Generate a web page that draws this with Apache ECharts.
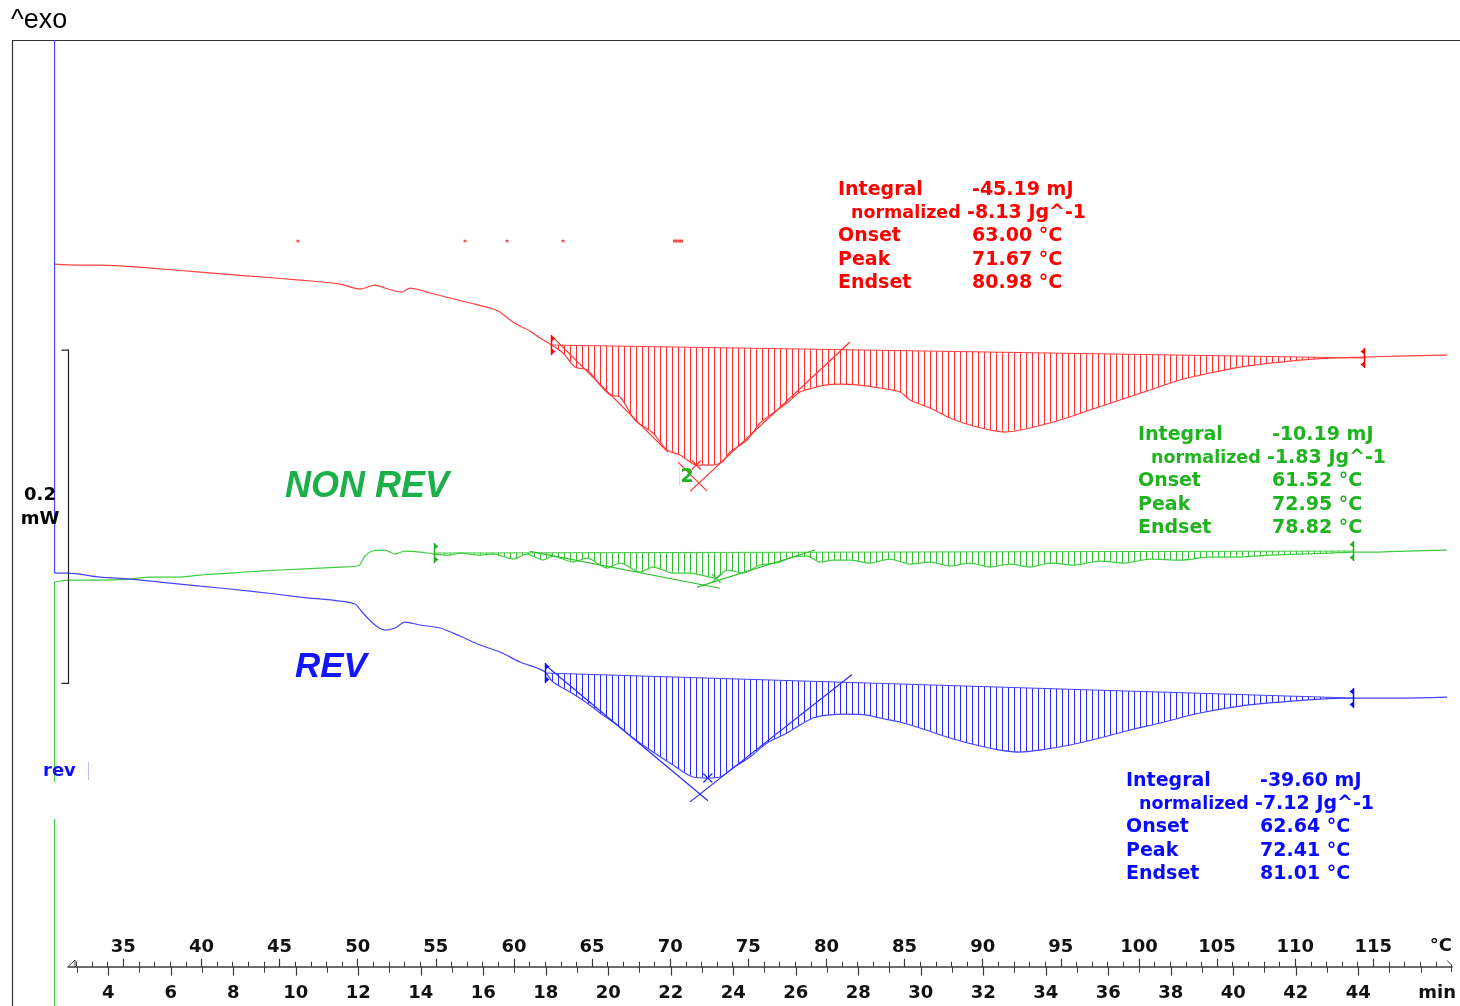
<!DOCTYPE html>
<html>
<head>
<meta charset="utf-8">
<script src="https://cdn.jsdelivr.net/npm/echarts@6/dist/echarts.min.js"></script>
<style>
html,body{margin:0;padding:0;background:#fff;}
#chart{width:1460px;height:1006px;}
</style>
</head>
<body>
<div id="chart"></div>
<script>
// Temperature-modulated DSC run: total (red), non-reversing (green) and reversing (blue) heat flow.
// x = sample temperature in °C, y = heat flow in mW (each curve carries its own display offset).

const tempLabels = [35, 40, 45, 50, 55, 60, 65, 70, 75, 80, 85, 90, 95, 100, 105, 110, 115];
const timeLabels = [4, 6, 8, 10, 12, 14, 16, 18, 20, 22, 24, 26, 28, 30, 32, 34, 36, 38, 40, 42, 44];

const redCurve = [
  [30.57,0.4216],[32.23,0.4210],[33.51,0.4210],[36.71,0.4192],[39.91,0.4168],[43.11,0.4144],
  [46.31,0.4120],[48.87,0.4096],[50.15,0.4066],[50.66,0.4078],[51.11,0.4090],[51.75,0.4072],
  [52.39,0.4054],[52.84,0.4048],[53.35,0.4072],[53.99,0.4060],[54.63,0.4042],[55.91,0.4012],
  [57.19,0.3982],[58.47,0.3952],[59.11,0.3928],[59.75,0.3880],[60.39,0.3844],[61.03,0.3814],
  [61.67,0.3772],[62.31,0.3736],[63.14,0.3682],[63.91,0.3598],[64.68,0.3580],[65.51,0.3490],
  [66.15,0.3430],[66.79,0.3418],[67.75,0.3280],[68.90,0.3202],[69.80,0.3100],[70.63,0.3070],
  [71.10,0.3040],[71.65,0.3010],[72.68,0.3010],[73.32,0.3028],[73.83,0.3088],[74.92,0.3160],
  [75.75,0.3262],[76.58,0.3322],[77.48,0.3382],[78.31,0.3448],[79.14,0.3472],[79.91,0.3490],
  [80.87,0.3496],[82.15,0.3490],[83.43,0.3472],[84.71,0.3448],[85.35,0.3400],[86.63,0.3352],
  [87.91,0.3292],[89.19,0.3250],[90.47,0.3220],[91.43,0.3208],[93.03,0.3232],[94.95,0.3280],
  [96.87,0.3340],[98.79,0.3400],[100.71,0.3460],[102.63,0.3520],[104.55,0.3562],[106.47,0.3598],
  [108.39,0.3622],[110.31,0.3640],[112.23,0.3652],[114.41,0.3658],[116.71,0.3664],[119.72,0.3670]
];

// vertical start-up transients drawn at the left edge
const greenLead = [[30.60,-0.0236],[30.60,0.0886],'-',[30.60,0.1108],[30.60,0.2308]];
const blueLead = [[30.60,0.5560],[30.60,0.2362]];

const greenCurve = [
  [30.60,0.2308],[31.59,0.2320],[33.51,0.2320],[35.43,0.2326],[36.71,0.2338],[38.63,0.2338],[39.91,0.2350],
  [41.83,0.2362],[43.75,0.2374],[46.31,0.2386],[48.87,0.2398],[50.02,0.2404],[50.47,0.2464],
  [50.92,0.2494],[51.75,0.2500],[52.39,0.2476],[53.03,0.2494],[53.99,0.2488],[54.89,0.2476],
  [55.91,0.2470],[56.55,0.2482],[57.64,0.2470],[58.66,0.2476],[59.94,0.2446],[60.84,0.2476],
  [61.86,0.2440],[62.50,0.2464],[63.78,0.2428],[64.68,0.2452],[65.96,0.2392],[66.79,0.2422],
  [68.07,0.2368],[68.90,0.2398],[70.18,0.2362],[71.27,0.2362],[72.93,0.2332],[73.64,0.2380],
  [74.66,0.2362],[75.75,0.2410],[76.84,0.2422],[77.86,0.2458],[78.76,0.2464],[79.59,0.2428],
  [80.42,0.2440],[81.51,0.2440],[82.79,0.2422],[84.07,0.2446],[85.35,0.2416],[86.63,0.2428],
  [87.91,0.2404],[89.19,0.2422],[90.47,0.2398],[91.75,0.2416],[93.03,0.2398],[94.31,0.2422],
  [95.91,0.2410],[97.51,0.2434],[99.11,0.2422],[100.71,0.2446],[102.63,0.2440],[104.55,0.2458],
  [106.47,0.2458],[108.39,0.2470],[110.31,0.2476],[112.23,0.2482],[113.70,0.2488],[115.21,0.2488],
  [117.13,0.2494],[119.72,0.2500]
];

const blueCurve = [
  [30.60,0.2362],[31.43,0.2362],[33.51,0.2338],[35.43,0.2326],[37.35,0.2308],
  [39.91,0.2284],[43.11,0.2254],[46.31,0.2218],[48.87,0.2194],[49.83,0.2176],[50.28,0.2128],
  [51.11,0.2050],[51.75,0.2020],[52.39,0.2032],[53.03,0.2068],[53.99,0.2050],[55.27,0.2032],
  [56.55,0.1984],[57.83,0.1930],[59.11,0.1888],[60.39,0.1828],[61.48,0.1792],[61.99,0.1768],
  [62.50,0.1708],[63.59,0.1648],[64.68,0.1582],[65.51,0.1522],[66.60,0.1450],[67.62,0.1372],
  [68.90,0.1288],[70.18,0.1210],[71.46,0.1138],[72.36,0.1132],[73.19,0.1138],[74.02,0.1192],
  [75.11,0.1258],[76.20,0.1342],[77.48,0.1402],[78.31,0.1450],[79.14,0.1492],[80.04,0.1510],
  [81.32,0.1516],[82.60,0.1510],[83.43,0.1492],[84.71,0.1468],[85.99,0.1432],[87.91,0.1372],
  [89.83,0.1324],[91.11,0.1300],[92.39,0.1288],[93.67,0.1300],[95.59,0.1330],[97.51,0.1372],
  [99.43,0.1420],[101.35,0.1462],[103.91,0.1522],[106.47,0.1564],[109.03,0.1588],[111.59,0.1606],
  [113.70,0.1612],[116.71,0.1612],[119.72,0.1618]
];

// integration limits (baseline end points)
const redBaseline = [[62.37,0.3730],[114.41,0.3652]];
const greenBaseline = [[54.89,0.2482],[113.70,0.2494]];
const blueBaseline = [[61.99,0.1762],[113.70,0.1612]];

// tangent intersection points
const redCross = [71.84,0.2902];
const greenCross = [72.14,0.2290];
const blueCross = [71.91,0.1036];

// drawn pieces of the onset / endset tangents (°C ranges)
const redTangentSpan = {onset:[[62.63,69.86],[70.50,72.36]], endset:[[71.27,81.51]]};
const greenTangentSpan = {onset:[[61.03,73.19]], endset:[[71.72,79.27]]};
const blueTangentSpan = {onset:[[62.12,72.42]], endset:[[71.27,81.64]]};

// evaluation results
const redResult = {integral:'-45.19 mJ', normalized:'-8.13 Jg^-1', onset:63.00, peak:71.67, endset:80.98, peakLevel:0.3010};
const greenResult = {integral:'-10.19 mJ', normalized:'-1.83 Jg^-1', onset:61.52, peak:72.95, endset:78.82, peakLevel:0.2330};
const blueResult = {integral:'-39.60 mJ', normalized:'-7.12 Jg^-1', onset:62.64, peak:72.41, endset:81.01, peakLevel:0.1132};

// isolated red points above the total-heat-flow curve
const redSpecks = [[46.18,0.4354],[56.87,0.4354],[59.56,0.4354],[63.14,0.4354],[70.50,0.4354]];

// heat-flow scale bar
const scaleBar = {temp:31.43, top:0.37, span:0.2};

const COLORS = {
  red:   {line:'#ff4040', hatch:'#ff3030', text:'#ff0000'},
  green: {line:'#40cc40', hatch:'#30c030', text:'#1fb41f'},
  blue:  {line:'#4545ff', hatch:'#2a2aff', text:'#0a0aff'}
};

function baseAt(base, t) {
  const [a, b] = base;
  return a[1] + (b[1] - a[1]) * (t - a[0]) / (b[0] - a[0]);
}
function lineThrough(p, q, t1, t2) {
  const k = (q[1] - p[1]) / (q[0] - p[0]);
  return [t1, p[1] + k * (t1 - p[0]), t2, p[1] + k * (t2 - p[0])];
}
function tangents(base, cross, res, span) {
  const on = [res.onset, baseAt(base, res.onset)];
  const off = [res.endset, baseAt(base, res.endset)];
  return span.onset.map(r => lineThrough(on, cross, r[0], r[1]))
    .concat(span.endset.map(r => lineThrough(off, cross, r[0], r[1])));
}
function hatchPolygon(curve, base) {
  const pts = [base[0]];
  curve.forEach(p => { if (Array.isArray(p) && p[0] > base[0][0] && p[0] < base[1][0]) pts.push(p); });
  pts.push(base[1]);
  return pts;
}
function hatchPattern(color) {
  const c = document.createElement('canvas');
  c.width = 6; c.height = 4;
  const g = c.getContext('2d');
  g.fillStyle = color;
  g.fillRect(0, 0, 1, 4);
  return {image: c, repeat: 'repeat'};
}

const traces = [
  {name:'red', curve:redCurve, lead:null, base:redBaseline, cross:redCross, res:redResult, span:redTangentSpan},
  {name:'green', curve:greenCurve, lead:greenLead, base:greenBaseline, cross:greenCross, res:greenResult, span:greenTangentSpan},
  {name:'blue', curve:blueCurve, lead:blueLead, base:blueBaseline, cross:blueCross, res:blueResult, span:blueTangentSpan}
];

const series = [];
traces.forEach(tr => {
  const col = COLORS[tr.name];
  const poly = hatchPolygon(tr.curve, tr.base);
  const pattern = hatchPattern(col.hatch);
  series.push({
    type:'custom', coordinateSystem:'cartesian2d', xAxisIndex:0, yAxisIndex:0, silent:true, z:2,
    data:[poly[0]],
    renderItem:(params, api) => ({
      type:'polygon',
      shape:{points: poly.map(p => api.coord(p))},
      style:{fill: pattern, stroke: null}
    })
  });
  if (tr.lead) {
    series.push({
      type:'line', xAxisIndex:0, yAxisIndex:0, data:tr.lead, showSymbol:false, symbol:'none',
      connectNulls:false, silent:true, z:4, lineStyle:{color:col.line, width:1.2}
    });
  }
  series.push({
    type:'line', xAxisIndex:0, yAxisIndex:0, data:tr.curve, showSymbol:false, symbol:'none',
    smooth:0.3, silent:true, z:4, lineStyle:{color:col.line, width:1.2}
  });
  series.push({
    type:'line', xAxisIndex:0, yAxisIndex:0, data:tr.base, showSymbol:false, symbol:'none',
    silent:true, z:4, lineStyle:{color:col.line, width:1}
  });
  const segs = tangents(tr.base, tr.cross, tr.res, tr.span);
  series.push({
    type:'custom', coordinateSystem:'cartesian2d', xAxisIndex:0, yAxisIndex:0, silent:true, z:5,
    data:segs,
    renderItem:(params, api) => {
      const a = api.coord([api.value(0), api.value(1)]);
      const b = api.coord([api.value(2), api.value(3)]);
      return {type:'line', shape:{x1:a[0], y1:a[1], x2:b[0], y2:b[1]}, style:{stroke:col.hatch, lineWidth:1.2}};
    }
  });
  // peak marker
  series.push({
    type:'custom', coordinateSystem:'cartesian2d', xAxisIndex:0, yAxisIndex:0, silent:true, z:6,
    data:[[tr.res.peak, tr.res.peakLevel]],
    renderItem:(params, api) => {
      const p = api.coord([api.value(0), api.value(1)]);
      const s = 4.5;
      return {type:'group', children:[
        {type:'line', shape:{x1:p[0]-s, y1:p[1]-s, x2:p[0]+s, y2:p[1]+s}, style:{stroke:col.hatch, lineWidth:1.2}},
        {type:'line', shape:{x1:p[0]-s, y1:p[1]+s, x2:p[0]+s, y2:p[1]-s}, style:{stroke:col.hatch, lineWidth:1.2}}
      ]};
    }
  });
  // integration limit flags
  series.push({
    type:'custom', coordinateSystem:'cartesian2d', xAxisIndex:0, yAxisIndex:0, silent:true, z:6,
    data:[[tr.base[0][0], tr.base[0][1], 1], [tr.base[1][0], tr.base[1][1], -1]],
    renderItem:(params, api) => {
      const p = api.coord([api.value(0), api.value(1)]);
      const d = api.value(2);
      const x = Math.round(p[0]) + 0.5, y = p[1];
      return {type:'group', children:[
        {type:'line', shape:{x1:x, y1:y-10, x2:x, y2:y+10}, style:{stroke:col.text, lineWidth:1.5}},
        {type:'polygon', shape:{points:[[x,y-9.5],[x+4*d,y-6.5],[x,y-3.5]]}, style:{fill:col.text}},
        {type:'polygon', shape:{points:[[x,y+3.5],[x+4*d,y+6.5],[x,y+9.5]]}, style:{fill:col.text}}
      ]};
    }
  });
});

series.push({
  type:'scatter', xAxisIndex:0, yAxisIndex:0, data:redSpecks, silent:true, z:4,
  symbol:'rect', symbolSize:(v, p) => p.dataIndex === redSpecks.length - 1 ? [10,3] : [3,2.5],
  itemStyle:{color:'#ff2020'}
});

series.push({
  type:'custom', coordinateSystem:'cartesian2d', xAxisIndex:0, yAxisIndex:0, silent:true, z:6,
  data:[[scaleBar.temp, scaleBar.top, scaleBar.top - scaleBar.span]],
  renderItem:(params, api) => {
    const a = api.coord([api.value(0), api.value(1)]);
    const b = api.coord([api.value(0), api.value(2)]);
    const x = Math.round(a[0]) + 0.5;
    return {type:'polyline', shape:{points:[[x-7,a[1]],[x,a[1]],[x,b[1]],[x-7,b[1]]]}, style:{stroke:'#222', lineWidth:1.2, fill:null}};
  }
});

const axisColor = '#3c3c3c';
const labelFont = {fontFamily:'DejaVu Sans', fontWeight:'bold', fontSize:18, color:'#111'};
const tempMinor = [];
for (let t = 32; t <= 119; t++) tempMinor.push(t);
const timeMinor = [];
for (let t = 3; t <= 46; t++) timeMinor.push(t);

const axisGrid = {left:68, right:8, top:40, bottom:39.3, outerBoundsMode:'none', containLabel:false};
const TEMP_RANGE = [31.461, 120.037];
const TIME_RANGE = [2.7105, 46.9985];

const option = {
  animation:false,
  backgroundColor:'#fff',
  grid:[
    {left:12, right:0, top:40, bottom:0, outerBoundsMode:'none', containLabel:false},
    Object.assign({}, axisGrid), Object.assign({}, axisGrid), Object.assign({}, axisGrid), Object.assign({}, axisGrid)
  ],
  xAxis:[
    {gridIndex:0, type:'value', min:27.877, max:120.549, show:false},
    {gridIndex:1, type:'value', min:TEMP_RANGE[0], max:TEMP_RANGE[1], position:'bottom',
     axisLine:{show:true, lineStyle:{color:axisColor, width:1.5}},
     axisTick:{show:true, inside:true, length:8, customValues:tempLabels, lineStyle:{color:axisColor, width:1.2}},
     axisLabel:Object.assign({show:true, inside:true, margin:10, customValues:tempLabels}, labelFont),
     splitLine:{show:false}},
    {gridIndex:2, type:'value', min:TEMP_RANGE[0], max:TEMP_RANGE[1], position:'bottom',
     axisLine:{show:false},
     axisTick:{show:true, inside:true, length:5, customValues:tempMinor, lineStyle:{color:axisColor, width:1}},
     axisLabel:{show:false}, splitLine:{show:false}},
    {gridIndex:3, type:'value', min:TIME_RANGE[0], max:TIME_RANGE[1], position:'bottom',
     axisLine:{show:false},
     axisTick:{show:true, inside:false, length:9, customValues:timeLabels, lineStyle:{color:axisColor, width:1.2}},
     axisLabel:Object.assign({show:true, inside:false, margin:18, customValues:timeLabels}, labelFont),
     splitLine:{show:false}},
    {gridIndex:4, type:'value', min:TIME_RANGE[0], max:TIME_RANGE[1], position:'bottom',
     axisLine:{show:false},
     axisTick:{show:true, inside:false, length:6, customValues:timeMinor, lineStyle:{color:axisColor, width:1}},
     axisLabel:{show:false}, splitLine:{show:false}}
  ],
  yAxis:[
    {gridIndex:0, type:'value', min:-0.02358, max:0.55602, show:false},
    {gridIndex:1, type:'value', min:0, max:1, show:false},
    {gridIndex:2, type:'value', min:0, max:1, show:false},
    {gridIndex:3, type:'value', min:0, max:1, show:false},
    {gridIndex:4, type:'value', min:0, max:1, show:false}
  ],
  series:series,
  graphic:[]
};

// text helpers
const g = option.graphic;
function text(x, y, s, color, extra) {
  g.push({type:'text', x:x, y:y, silent:true, z:100, style:Object.assign({
    text:s, fill:color, fontFamily:'DejaVu Sans', fontWeight:'bold', fontSize:19,
    align:'left', verticalAlign:'middle'}, extra || {})});
}
function resultBlock(res, color, x0, x1, y0) {
  const dy = 23.2;
  text(x0, y0, 'Integral', color);
  text(x1, y0, res.integral, color);
  text(x0 + 13, y0 + dy, 'normalized', color, {fontSize:17.5});
  text(x1 - 5, y0 + dy, res.normalized, color);
  text(x0, y0 + 2 * dy, 'Onset', color);
  text(x1, y0 + 2 * dy, res.onset.toFixed(2) + ' °C', color);
  text(x0, y0 + 3 * dy, 'Peak', color);
  text(x1, y0 + 3 * dy, res.peak.toFixed(2) + ' °C', color);
  text(x0, y0 + 4 * dy, 'Endset', color);
  text(x1, y0 + 4 * dy, res.endset.toFixed(2) + ' °C', color);
}

// frame
g.push({type:'rect', silent:true, z:0, shape:{x:12.5, y:40.5, width:1480, height:1000}, style:{fill:null, stroke:'#333', lineWidth:1.2}});
g.push({type:'text', x:11, y:21, silent:true, z:100, style:{text:'^exo', fill:'#000', fontFamily:'Liberation Sans', fontSize:27, align:'left', verticalAlign:'middle'}});

text(40, 495, String(scaleBar.span), '#000', {align:'center', fontSize:18});
text(40, 519, 'mW', '#000', {align:'center', fontSize:18});

resultBlock(redResult, COLORS.red.text, 838, 972, 190);
resultBlock(greenResult, COLORS.green.text, 1138, 1272, 435);
resultBlock(blueResult, COLORS.blue.text, 1126, 1260, 781);

text(285, 487, 'NON REV', '#1cb04a', {fontFamily:'Liberation Sans', fontStyle:'italic', fontSize:36});
text(295, 667, 'REV', '#1414ff', {fontFamily:'Liberation Sans', fontStyle:'italic', fontSize:35});

text(687, 477, '2', '#1fb41f', {align:'center', fontSize:19});
g.push({type:'line', silent:true, z:100, shape:{x1:679.5, y1:467, x2:679.5, y2:486}, style:{stroke:'#c8ecc8', lineWidth:1}});

text(43, 771, 'rev', '#1010ff', {fontSize:18});
g.push({type:'line', silent:true, z:100, shape:{x1:88.5, y1:762, x2:88.5, y2:780}, style:{stroke:'#b8bcff', lineWidth:1}});

// axis end decorations and units
g.push({type:'polyline', silent:true, z:100, shape:{points:[[68,966.7],[75,960],[75,967]]}, style:{stroke:axisColor, lineWidth:1, fill:null}});
g.push({type:'polyline', silent:true, z:100, shape:{points:[[1447,960.5],[1451.5,965],[1451.5,972]]}, style:{stroke:axisColor, lineWidth:1, fill:null}});
text(1452, 946, '°C', '#111', {align:'right', fontSize:18});
text(1456, 993, 'min', '#111', {align:'right', fontSize:18});

const chart = echarts.init(document.getElementById('chart'), null, {renderer:'canvas', width:1460, height:1006});
chart.setOption(option);
</script>
</body>
</html>
